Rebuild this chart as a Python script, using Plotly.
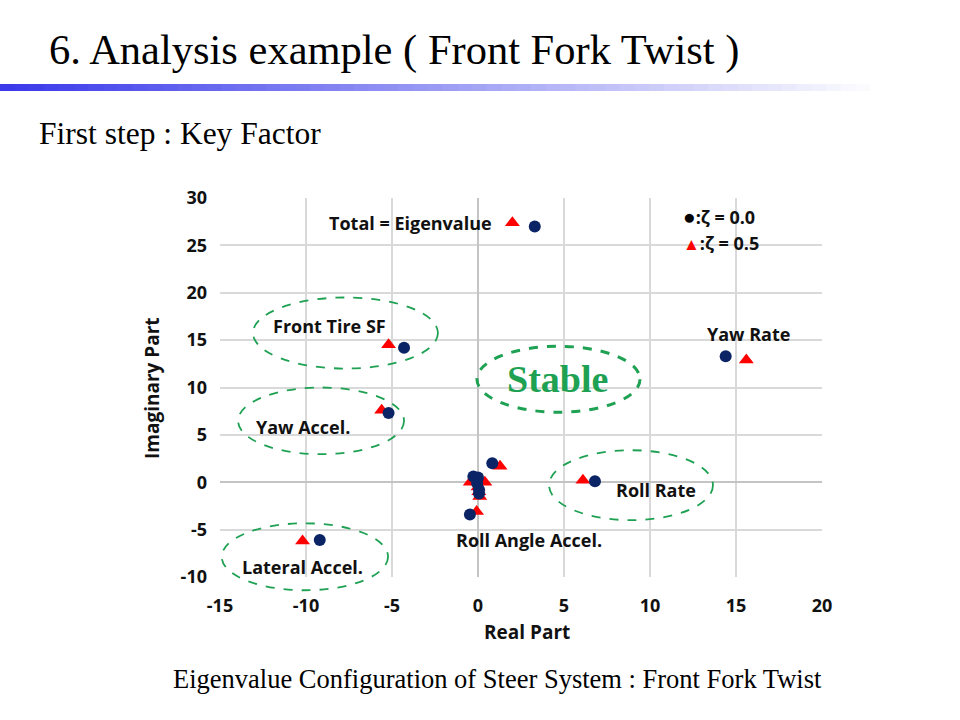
import plotly.graph_objects as go

# ---- data ----
zeta0_x = [3.3, -4.3, -5.2, -9.2, 14.4, 6.8, 0.83, -0.47, -0.27, 0.0, -0.05, 0.06, 0.06]
zeta0_y = [27.0, 14.2, 7.3, -6.1, 13.3, 0.1, 2.0, -3.4, 0.6, 0.5, -0.1, -0.8, -1.2]
zeta5_x = [2.0, -5.2, -5.6, -10.2, 15.6, 6.1, 1.28, -0.08, -0.45, 0.4, 0.0, 0.1, 0.05]
zeta5_y = [27.4, 14.5, 7.6, -6.2, 12.9, 0.2, 1.7, -3.1, 0.0, 0.0, -0.5, -1.5, -1.0]

labels = ["Total = Eigenvalue", "Front Tire SF", "Yaw Accel.", "Lateral Accel.",
          "Yaw Rate", "Roll Rate", "Roll Angle Accel."]
label_x = [-3.9, -8.66, -10.2, -10.2, 15.7, 10.35, 2.97]
label_y = [27.4, 16.5, 5.8, -8.9, 15.6, -0.85, -6.1]

# ellipse extents (x0, x1, y0, y1) in data units
ellipses = [(-13.08, -2.33, 12.0, 19.5), (-13.95, -4.3, 2.96, 10.0),
            (-14.9, -5.23, -11.4, -4.33), (4.13, 13.66, -4.0, 3.38)]
stable_ellipse = (-0.06, 9.42, 7.39, 14.35)

x_range = [-15, 20]
y_range = [-10, 30]
x_ticks = [-15, -10, -5, 0, 5, 10, 15, 20]
x_tick_labels = ["-15", "-10", "-5", "0", "5", "10", "15", "20"]
y_ticks = [-10, -5, 0, 5, 10, 15, 20, 25, 30]
y_tick_labels = ["-10", "-5", "0", "5", "10", "15", "20", "25", "30"]

W, H = 960, 720
L, R, T, B = 220, 822, 198, 577

def px(x):
    return (L + (x - x_range[0]) / (x_range[1] - x_range[0]) * (R - L)) / W

def py(y):
    return 1 - (B - (y - y_range[0]) / (y_range[1] - y_range[0]) * (B - T)) / H

NAVY = "#0b2465"
RED = "#ff0000"
GREEN = "#1ea152"
SANS = "Open Sans"
SERIF = "Liberation Serif"

fig = go.Figure()
fig.add_trace(go.Scatter(x=zeta5_x, y=zeta5_y, mode="markers",
                         marker=dict(symbol="triangle-up", size=13, color=RED),
                         showlegend=False, cliponaxis=False))
fig.add_trace(go.Scatter(x=zeta0_x, y=zeta0_y, mode="markers",
                         marker=dict(symbol="circle", size=12, color=NAVY),
                         showlegend=False, cliponaxis=False))

shapes = []
for (x0, x1, y0, y1) in ellipses:
    shapes.append(dict(type="circle", xref="paper", yref="paper",
                       x0=px(x0), x1=px(x1), y0=py(y0), y1=py(y1),
                       line=dict(color=GREEN, width=1.8, dash="dash")))
x0, x1, y0, y1 = stable_ellipse
shapes.append(dict(type="circle", xref="paper", yref="paper",
                   x0=px(x0), x1=px(x1), y0=py(y0), y1=py(y1),
                   line=dict(color=GREEN, width=3, dash="dash")))

# gradient bar under the title
n = 60
bar_end = 885
for i in range(n):
    t = i / (n - 1)
    r = int(58 + (255 - 58) * t)
    g = int(58 + (255 - 58) * t)
    b = int(235 + (255 - 235) * t)
    shapes.append(dict(type="rect", xref="paper", yref="paper",
                       x0=i * bar_end / n / W, x1=(i + 1) * bar_end / n / W + 0.001,
                       y0=1 - 91 / H, y1=1 - 84 / H,
                       fillcolor=f"rgb({r},{g},{b})", line=dict(width=0), layer="below"))

def ann(text, x, y, size, family=SANS, color="#111", xref="paper", yref="paper",
        xanchor="center", textangle=0):
    return dict(text=text, x=x, y=y, xref=xref, yref=yref, xanchor=xanchor,
                yanchor="middle", showarrow=False, textangle=textangle,
                font=dict(family=family, size=size, color=color))

annotations = []
for txt, lx, ly in zip(labels, label_x, label_y):
    annotations.append(ann(f"<b>{txt}</b>", lx, ly, 18, xref="x", yref="y"))
annotations.append(ann("<b>Stable</b>", 4.65, 10.9, 38, family=SERIF, color=GREEN,
                       xref="x", yref="y"))
annotations.append(ann("<b><span style='color:black;font-size:21px'>●</span>:ζ = 0.0</b>",
                       681 / W, 1 - 216 / H, 18, xanchor="left"))
annotations.append(ann("<b><span style='color:red;font-size:17px'>▲</span>:ζ = 0.5</b>",
                       681 / W, 1 - 243 / H, 18, xanchor="left"))
# axis titles
annotations.append(ann("<b>Real Part</b>", 527 / W, 1 - 632 / H, 19))
annotations.append(ann("<b>Imaginary Part</b>", 152 / W, 1 - 388 / H, 19, textangle=-90))
# slide texts
annotations.append(ann("6. Analysis example ( Front Fork Twist )", 47 / W, 1 - 50 / H, 42.5,
                       family=SERIF, color="black", xanchor="left"))
annotations.append(ann("First step : Key Factor", 37 / W, 1 - 133 / H, 31.5,
                       family=SERIF, color="black", xanchor="left"))
annotations.append(ann("Eigenvalue Configuration of Steer System : Front Fork Twist",
                       497 / W, 1 - 679 / H, 26.5, family=SERIF, color="black"))

axis_common = dict(showgrid=True, gridcolor="#d9d9d9", gridwidth=1.5,
                   zeroline=True, zerolinecolor="#c4c4c4", zerolinewidth=1.5,
                   showline=False, ticks="", automargin=False,
                   tickfont=dict(family=SANS, size=18, color="#111", weight="bold"))

fig.update_layout(
    width=W, height=H, autosize=False,
    margin=dict(l=0, r=0, t=0, b=0, pad=0, autoexpand=False),
    paper_bgcolor="white", plot_bgcolor="white",
    shapes=shapes, annotations=annotations, showlegend=False,
    xaxis=dict(domain=[L / W, R / W], range=x_range, tickvals=x_ticks,
               ticktext=x_tick_labels, ticklabelstandoff=16, **axis_common),
    yaxis=dict(domain=[1 - B / H, 1 - T / H], range=y_range, tickvals=y_ticks,
               ticktext=y_tick_labels, ticklabelstandoff=12, **axis_common),
)

fig.write_html("out.html")
